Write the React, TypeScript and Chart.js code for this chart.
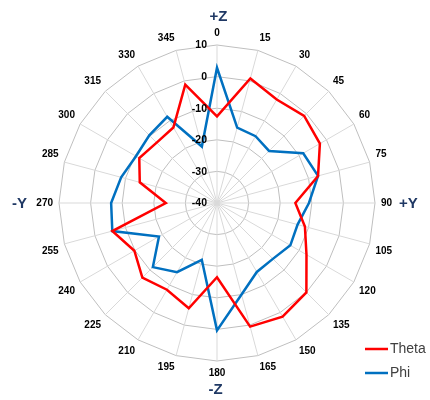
import React, { useEffect, useRef } from "react";
import { Chart, registerables } from "chart.js";

Chart.register(...registerables);

const angleLabels = ["0", "15", "30", "45", "60", "75", "90", "105", "120", "135", "150", "165", "180", "195", "210", "225", "240", "255", "270", "285", "300", "315", "330", "345"];
const thetaValues = [-12.6, 0.8, -2.2, -1, -2.4, -6.9, -15.2, -11.2, -7.3, 0, 1.5, 0.5, -16.5, -5.5, -8.3, -6.6, -9.8, -5.7, -23.8, -14.7, -11.6, -13, -12.4, -1.2];
const phiValues = [2.8, -15.3, -15.6, -16.7, -8.5, -6.9, -10.9, -13.6, -13.2, -15, -14.8, -10, 0.3, -21.4, -14.7, -11.3, -18.8, -5.7, -6.5, -8.6, -10.4, -9.7, -8.5, -21.5];
const seriesNames = ["Theta", "Phi"];
const seriesColors = ["#FF0000", "#0070C0"];
const axisTitles = ["+Z", "+Y", "-Z", "-Y"];
const radialMin = -40;
const radialMax = 10;
const radialStep = 10;

const FONT = "'Liberation Sans', Arial, sans-serif";

const overlayPlugin = {
  id: "overlay",
  afterDatasetsDraw(chart: any) {
    const ctx = chart.ctx;
    const scale = chart.scales.r;
    const xc = scale.xCenter;
    const yc = scale.yCenter;
    const r = scale.drawingArea;
    ctx.save();
    // tick labels
    ctx.font = `bold 10.5px ${FONT}`;
    ctx.fillStyle = "#000000";
    ctx.textAlign = "right";
    ctx.textBaseline = "middle";
    scale.ticks.forEach((t: any) => {
      const d = scale.getDistanceFromCenterForValue(t.value);
      ctx.fillText(String(t.label), xc - 10, yc - d + 0.5);
    });
    // axis titles
    ctx.font = `bold 15px ${FONT}`;
    ctx.fillStyle = "#1F3864";
    ctx.textBaseline = "middle";
    ctx.textAlign = "center";
    ctx.fillText(axisTitles[0], xc + 1.5, yc - r - 28);
    ctx.fillText(axisTitles[2], xc - 1.5, yc + r + 29);
    ctx.textAlign = "left";
    ctx.fillText(axisTitles[1], xc + r + 24, yc + 1);
    ctx.textAlign = "right";
    ctx.fillText(axisTitles[3], xc - r - 32, yc + 1);
    // legend
    ctx.font = `14px ${FONT}`;
    chart.data.datasets.forEach((ds: any, i: number) => {
      const y = 349 + i * 24;
      ctx.strokeStyle = ds.borderColor;
      ctx.lineWidth = 2.5;
      ctx.beginPath();
      ctx.moveTo(365, y);
      ctx.lineTo(388, y);
      ctx.stroke();
      ctx.fillStyle = "#404040";
      ctx.textAlign = "left";
      ctx.textBaseline = "middle";
      ctx.fillText(ds.label, 390, y + 0.5);
    });
    ctx.restore();
  },
};

export default function App() {
  const ref = useRef<HTMLCanvasElement | null>(null);
  useEffect(() => {
    if (!ref.current) return;
    const chart = new Chart(ref.current, {
      type: "radar",
      data: {
        labels: angleLabels,
        datasets: [
          {
            label: seriesNames[0],
            data: thetaValues,
            borderColor: seriesColors[0],
            backgroundColor: seriesColors[0],
            borderWidth: 2.5,
            pointRadius: 0,
            fill: false,
            tension: 0,
          },
          {
            label: seriesNames[1],
            data: phiValues,
            borderColor: seriesColors[1],
            backgroundColor: seriesColors[1],
            borderWidth: 2.5,
            pointRadius: 0,
            fill: false,
            tension: 0,
          },
        ],
      },
      options: {
        responsive: false,
        animation: false,
        layout: { padding: { top: 27, bottom: 20, left: 30, right: 30 } },
        plugins: {
          legend: { display: false },
          tooltip: { enabled: false },
        },
        scales: {
          r: {
            min: radialMin,
            max: radialMax,
            ticks: { stepSize: radialStep, display: false },
            grid: { color: "#BFBFBF", lineWidth: 1 },
            angleLines: { color: "#D9D9D9", lineWidth: 1 },
            pointLabels: {
              font: { family: FONT, size: 10, weight: "bold" },
              color: "#000000",
              padding: 6,
            },
          },
        },
      },
      plugins: [overlayPlugin],
    });
    return () => chart.destroy();
  }, []);
  return (
    <div style={{ position: "absolute", left: 0, top: 0, width: 430, height: 400, background: "#ffffff" }}>
      <canvas ref={ref} width={430} height={400} />
    </div>
  );
}
